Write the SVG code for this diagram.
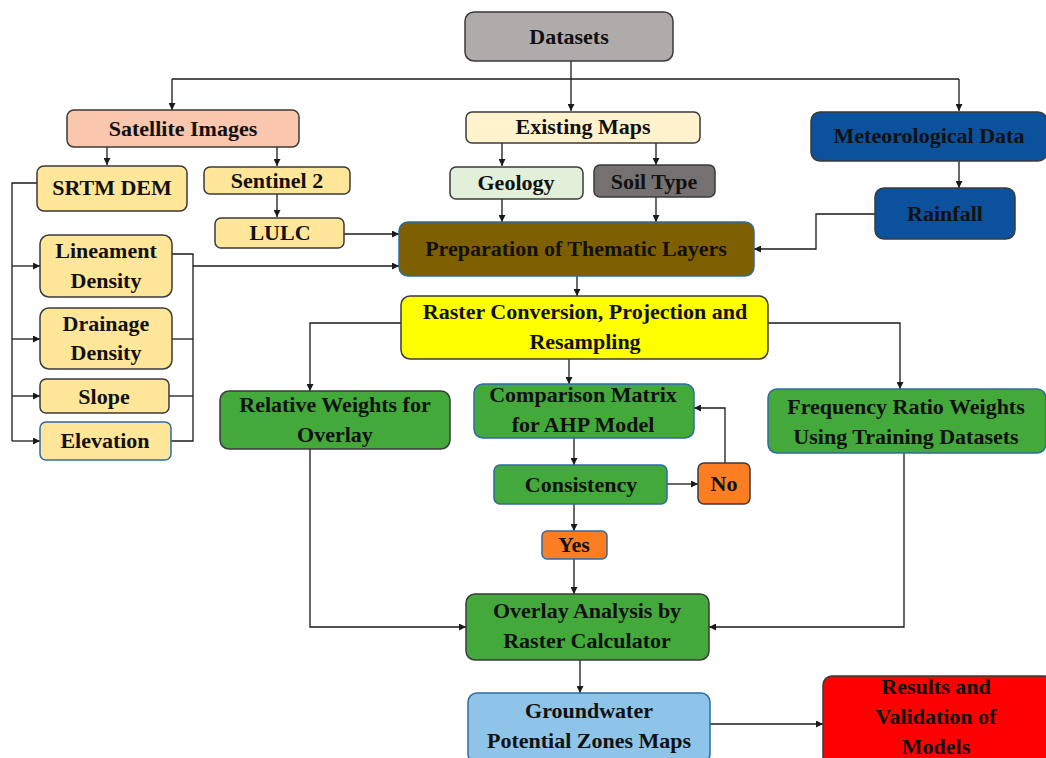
<svg xmlns="http://www.w3.org/2000/svg" width="1046" height="758" viewBox="0 0 1046 758">
<defs>
<marker id="ah" viewBox="0 0 10 10" refX="10" refY="5" markerWidth="7" markerHeight="7" markerUnits="userSpaceOnUse" orient="auto">
<path d="M0,0 L10,5 L0,10 z" fill="#1a1a1a"/>
</marker>
<style>
.n{stroke:#3a3a3a;stroke-width:1.5}
.b{stroke:#2e6aa6;stroke-width:1.5}
.t{font-family:"Liberation Serif","Times New Roman",serif;font-weight:bold;font-size:22px;fill:#111;text-anchor:middle}
.c{fill:none;stroke:#1a1a1a;stroke-width:1.3}
.a{marker-end:url(#ah)}
</style>
</defs>
<rect width="1046" height="758" fill="#ffffff"/>
<g id="connectors">
<path class="c" d="M571,61 V79"/>
<path class="c" d="M172,79 H959"/>
<path class="c a" d="M172,79 V110"/>
<path class="c a" d="M571,79 V111"/>
<path class="c a" d="M959,79 V111"/>
<path class="c a" d="M107,147 V165"/>
<path class="c a" d="M277,147 V166"/>
<path class="c a" d="M277,194 V217"/>
<path class="c a" d="M502,143 V166"/>
<path class="c a" d="M656,143 V165"/>
<path class="c a" d="M502,199 V222"/>
<path class="c a" d="M656,197 V222"/>
<path class="c a" d="M959,161 V188"/>
<path class="c a" d="M877,214 H816 V249 H754"/>
<path class="c a" d="M344,234 H399"/>
<path class="c" d="M37,183 H12 V441"/>
<path class="c a" d="M12,266 H40"/>
<path class="c a" d="M12,339 H40"/>
<path class="c a" d="M12,396 H40"/>
<path class="c a" d="M12,441 H40"/>
<path class="c" d="M172,254 H193 V441 H171"/>
<path class="c" d="M172,339 H193"/>
<path class="c" d="M169,396 H193"/>
<path class="c a" d="M193,266 H399"/>
<path class="c a" d="M577,276 V296"/>
<path class="c a" d="M401,323 H310 V391"/>
<path class="c a" d="M768,323 H900 V389"/>
<path class="c a" d="M569,359 V384"/>
<path class="c a" d="M574,438 V465"/>
<path class="c a" d="M667,484 H698"/>
<path class="c a" d="M725,463 V408 H694"/>
<path class="c a" d="M574,504 V531"/>
<path class="c a" d="M574,559 V594"/>
<path class="c a" d="M310,449 V627 H466"/>
<path class="c a" d="M904,453 V627 H709"/>
<path class="c a" d="M580,660 V693"/>
<path class="c a" d="M710,724 H823"/>
</g>
<g id="datasets"><rect class="n" x="465" y="12" width="208" height="49" rx="9" fill="#b0abab"/><text class="t" x="569" y="44">Datasets</text></g>
<g id="satellite"><rect class="n" x="67" y="110" width="232" height="37" rx="7" fill="#f8c7ad"/><text class="t" x="183" y="136">Satellite Images</text></g>
<g id="existing"><rect class="n" x="466" y="112" width="234" height="31" rx="6" fill="#fff2cc"/><text class="t" x="583" y="134">Existing Maps</text></g>
<g id="meteo"><rect class="n" x="811" y="112" width="236" height="49" rx="9" fill="#0b519c"/><text class="t" x="929" y="143">Meteorological Data</text></g>
<g id="srtm"><rect class="n" x="37" y="166" width="150" height="45" rx="7" fill="#ffe699"/><text class="t" x="112" y="195">SRTM DEM</text></g>
<g id="sentinel"><rect class="n" x="204" y="167" width="146" height="27" rx="6" fill="#ffe699"/><text class="t" x="277" y="188">Sentinel 2</text></g>
<g id="lulc"><rect class="n" x="215" y="218" width="129" height="30" rx="6" fill="#ffe699"/><text class="t" x="280" y="240">LULC</text></g>
<g id="geology"><rect class="n" x="450" y="167" width="133" height="32" rx="6" fill="#e2f0d9"/><text class="t" x="516" y="190">Geology</text></g>
<g id="soil"><rect class="n" x="594" y="165" width="121" height="32" rx="6" fill="#767171"/><text class="t" x="654" y="189">Soil Type</text></g>
<g id="rainfall"><rect class="n" x="875" y="188" width="140" height="51" rx="9" fill="#0b519c"/><text class="t" x="945" y="221">Rainfall</text></g>
<g id="prep"><rect class="b" x="399" y="222" width="355" height="54" rx="9" fill="#7f6000"/><text class="t" x="576" y="256">Preparation of Thematic Layers</text></g>
<g id="lineament"><rect class="n" x="40" y="235" width="132" height="62" rx="9" fill="#ffe699"/><text class="t" x="106" y="258">Lineament</text><text class="t" x="106" y="288">Density</text></g>
<g id="drainage"><rect class="n" x="40" y="308" width="132" height="61" rx="9" fill="#ffe699"/><text class="t" x="106" y="331">Drainage</text><text class="t" x="106" y="360">Density</text></g>
<g id="slope"><rect class="n" x="40" y="379" width="129" height="34" rx="6" fill="#ffe699"/><text class="t" x="104" y="404">Slope</text></g>
<g id="elevation"><rect class="b" x="40" y="422" width="131" height="38" rx="6" fill="#ffe699"/><text class="t" x="105" y="448">Elevation</text></g>
<g id="raster"><rect class="n" x="401" y="296" width="367" height="63" rx="9" fill="#ffff00"/><text class="t" x="585" y="319">Raster Conversion, Projection and</text><text class="t" x="585" y="349">Resampling</text></g>
<g id="relative"><rect class="n" x="220" y="391" width="230" height="58" rx="9" fill="#44a93b"/><text class="t" x="335" y="412">Relative Weights for</text><text class="t" x="335" y="442">Overlay</text></g>
<g id="comparison"><rect class="b" x="474" y="384" width="220" height="54" rx="9" fill="#44a93b"/><text class="t" x="583" y="402">Comparison Matrix</text><text class="t" x="583" y="432">for AHP Model</text></g>
<g id="frequency"><rect class="b" x="768" y="389" width="278" height="64" rx="9" fill="#44a93b"/><text class="t" x="906" y="414">Frequency Ratio Weights</text><text class="t" x="906" y="444">Using Training Datasets</text></g>
<g id="consistency"><rect class="b" x="494" y="465" width="173" height="39" rx="6" fill="#44a93b"/><text class="t" x="581" y="492">Consistency</text></g>
<g id="no"><rect class="n" x="698" y="463" width="52" height="41" rx="6" fill="#fd7e22"/><text class="t" x="724" y="491">No</text></g>
<g id="yes"><rect class="b" x="542" y="531" width="65" height="28" rx="5" fill="#fd7e22"/><text class="t" x="574" y="552">Yes</text></g>
<g id="overlay"><rect class="n" x="466" y="594" width="243" height="66" rx="9" fill="#44a93b"/><text class="t" x="587" y="618">Overlay Analysis by</text><text class="t" x="587" y="648">Raster Calculator</text></g>
<g id="groundwater"><rect class="b" x="468" y="693" width="242" height="70" rx="9" fill="#8ec4e8"/><text class="t" x="589" y="718">Groundwater</text><text class="t" x="589" y="748">Potential Zones Maps</text></g>
<g id="results"><rect class="n" x="823" y="676" width="230" height="90" rx="9" fill="#ff0000"/><text class="t" x="936" y="694">Results and</text><text class="t" x="936" y="724">Validation of</text><text class="t" x="936" y="754">Models</text></g>
</svg>
